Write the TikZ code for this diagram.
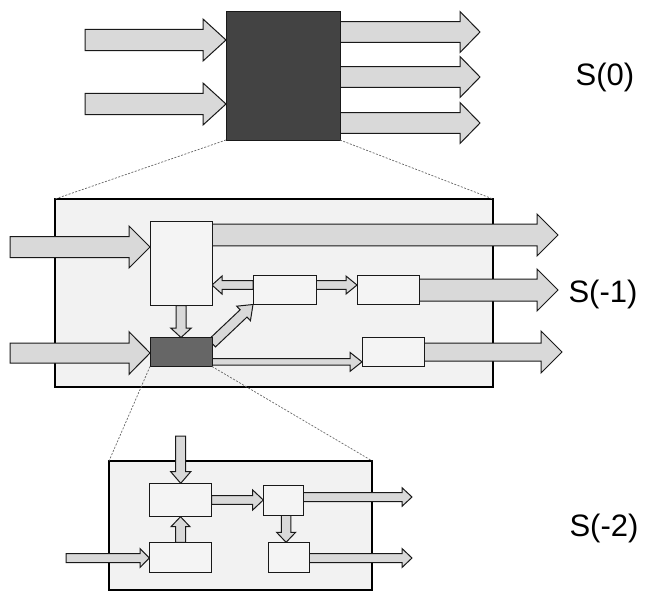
\documentclass[tikz,border=0pt]{standalone}
\usepackage{fontspec}
\setmainfont{Liberation Sans}
\usetikzlibrary{calc}
\definecolor{arrfill}{HTML}{D9D9D9}
\definecolor{dark0}{HTML}{434343}
\definecolor{dark1}{HTML}{666666}
\definecolor{framefill}{HTML}{F2F2F2}
\definecolor{boxfill}{HTML}{F4F4F4}
\pgfdeclarelayer{bg}
\pgfdeclarelayer{mid}
\pgfsetlayers{bg,mid,main}
% #1 tail, #2 tip, #3 shaft half width, #4 head half width, #5 head length
\newcommand\farrow[5]{%
  \coordinate (fah) at ($(#2)!#5!(#1)$);
  \filldraw[fatarrow] ($(#1)!#3!90:(#2)$) -- ($(fah)!#3!90:(#2)$) -- ($(fah)!#4!90:(#2)$) -- (#2)
    -- ($(fah)!#4!-90:(#2)$) -- ($(fah)!#3!-90:(#2)$) -- ($(#1)!#3!-90:(#2)$) -- cycle;
}
\tikzset{
  fatarrow/.style={fill=arrfill, draw=black!90, line width=1pt, line join=miter},
  blk/.style={rectangle, draw=black!90, line width=1pt, inner sep=0pt, outer sep=0pt},
  lightbox/.style={blk, fill=boxfill},
  framebox/.style={rectangle, draw=black, line width=1.7pt, fill=framefill, inner sep=0pt, outer sep=0pt},
  zoomline/.style={draw=black!60, line width=0.7pt, dash pattern=on 2pt off 1.5pt},
  lbl/.style={font=\fontsize{31pt}{31pt}\selectfont, inner sep=0pt, anchor=base}
}
\begin{document}
\begin{tikzpicture}[x=1pt,y=-1pt]
\useasboundingbox (0,0) rectangle (650,606);

% ---------- frames ----------
\begin{pgfonlayer}{bg}
\node[framebox, minimum width=438pt, minimum height=188pt] (F1) at (274,293) {};
\node[framebox, minimum width=263.3pt, minimum height=129pt] (F2) at (240.65,525.5) {};
\end{pgfonlayer}

% ---------- boxes ----------
\node[blk, fill=dark0, minimum width=114pt, minimum height=129pt] (S0) at (283,75.5) {};

\node[lightbox, minimum width=62pt, minimum height=84.5pt] (A) at (181,263.25) {};
\node[lightbox, minimum width=63pt, minimum height=29.5pt] (B) at (284.5,289.75) {};
\node[lightbox, minimum width=62pt, minimum height=29.5pt] (C) at (388,289.75) {};
\node[blk, fill=dark1, minimum width=62pt, minimum height=29pt] (D) at (181,352) {};
\node[lightbox, minimum width=62pt, minimum height=29pt] (E) at (393,352) {};

\node[lightbox, minimum width=62.4pt, minimum height=33.4pt] (F) at (180.5,500) {};
\node[lightbox, minimum width=62.4pt, minimum height=30.4pt] (G) at (180.5,557.5) {};
\node[lightbox, minimum width=40pt, minimum height=30pt] (H) at (283.3,500) {};
\node[lightbox, minimum width=41pt, minimum height=30.4pt] (I) at (288.8,557.5) {};

% ---------- labels ----------
\node[lbl] (L0) at (605,85) {S(0)};
\node[lbl] (L1) at (603,302) {S(-1)};
\node[lbl] (L2) at (604,536) {S(-2)};

% ---------- zoom lines ----------
\draw[zoomline] (S0.south west) -- (F1.north west);
\draw[zoomline] (S0.south east) -- (F1.north east);
\draw[zoomline] (D.south west) -- (F2.north west);
\draw[zoomline] (D.south east) -- (F2.north east);

% ---------- arrows ----------
\begin{pgfonlayer}{mid}
% top level
\coordinate (t1) at (85,40);  \coordinate (h1) at (S0.west |- t1);
\farrow{t1}{h1}{10.6pt}{21pt}{23pt}
\coordinate (t2) at (85,104); \coordinate (h2) at (S0.west |- t2);
\farrow{t2}{h2}{10.6pt}{21pt}{23pt}
\coordinate (o1) at (480,32);  \coordinate (s1) at (S0.east |- o1);
\farrow{s1}{o1}{10.3pt}{20.5pt}{20pt}
\coordinate (o2) at (480,77);  \coordinate (s2) at (S0.east |- o2);
\farrow{s2}{o2}{10.3pt}{20.5pt}{20pt}
\coordinate (o3) at (480,123); \coordinate (s3) at (S0.east |- o3);
\farrow{s3}{o3}{10.3pt}{20.5pt}{20pt}

% middle level
\coordinate (ta) at (10,247);  \coordinate (ha) at (A.west |- ta);
\farrow{ta}{ha}{10.5pt}{21pt}{21pt}
\coordinate (oa) at (558,235); \coordinate (sa) at (A.east |- oa);
\farrow{sa}{oa}{10.8pt}{21pt}{21pt}
\coordinate (oc) at (558,290); \coordinate (sc) at (C.east |- oc);
\farrow{sc}{oc}{11pt}{21pt}{21pt}
\coordinate (td) at (10,353);  \coordinate (hd) at (D.west |- td);
\farrow{td}{hd}{10pt}{21.3pt}{21pt}
\coordinate (oe) at (562,352); \coordinate (se) at (E.east |- oe);
\farrow{se}{oe}{9pt}{21pt}{21pt}
\farrow{A.south}{D.north}{5pt}{10.3pt}{9.5pt}
\coordinate (ba1) at ($(B.north west)!0.34!(B.south west)$); \coordinate (ba2) at (A.east |- ba1);
\farrow{ba1}{ba2}{4.3pt}{9pt}{10pt}
\coordinate (bc1) at ($(B.north east)!0.34!(B.south east)$); \coordinate (bc2) at (C.west |- bc1);
\farrow{bc1}{bc2}{4.3pt}{9pt}{11pt}
\coordinate (db1) at ($(D.north east)!0.2!(D.south east)$);
\farrow{db1}{B.south west}{5pt}{10pt}{13pt}
\coordinate (de1) at ($(D.north east)!0.84!(D.south east)$); \coordinate (de2) at (E.west |- de1);
\farrow{de1}{de2}{3.3pt}{9.5pt}{12pt}

% bottom level
\coordinate (tf) at (180.7,436); \coordinate (hf) at (tf |- F.north);
\farrow{tf}{hf}{5pt}{10pt}{11.6pt}
\farrow{G.north}{F.south}{5pt}{9.5pt}{10pt}
\farrow{F.east}{H.west}{4.3pt}{10pt}{10.6pt}
\coordinate (ho) at (412,497); \coordinate (hs) at (H.east |- ho);
\farrow{hs}{ho}{4.5pt}{9.3pt}{10pt}
\coordinate (hi1) at ($(H.south west)!0.57!(H.south east)$); \coordinate (hi2) at (hi1 |- I.north);
\farrow{hi1}{hi2}{4.8pt}{9.5pt}{10pt}
\coordinate (tg) at (66,558); \coordinate (hg) at (G.west |- tg);
\farrow{tg}{hg}{4.5pt}{9.5pt}{9.3pt}
\coordinate (io) at (412,558); \coordinate (is) at (I.east |- io);
\farrow{is}{io}{4.5pt}{9.5pt}{10pt}
\end{pgfonlayer}
\end{tikzpicture}
\end{document}
